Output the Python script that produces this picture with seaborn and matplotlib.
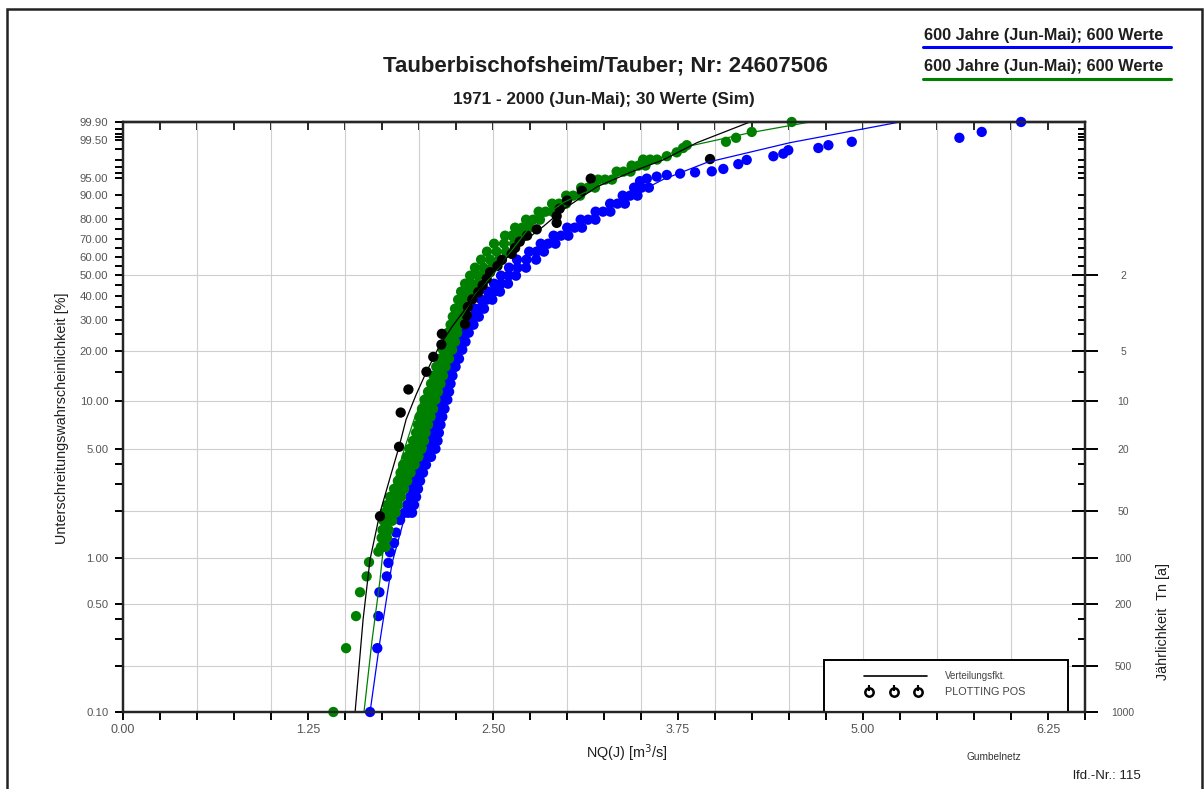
import numpy as np
import seaborn as sns
import matplotlib.pyplot as plt
from matplotlib.lines import Line2D
from matplotlib.patches import Rectangle

# NQ(J) [m3/s] against Unterschreitungswahrscheinlichkeit [%]

# green series (600 Werte): isolated low values, dense band (left / middle / right), isolated high values
green_tail_q = [1.421, 1.507, 1.574, 1.601, 1.646, 1.662, 1.725]
green_tail_p = [0.10, 0.26, 0.42, 0.60, 0.76, 0.94, 1.10]
green_band_p = [1.18, 1.35, 1.52, 1.74, 1.96, 2.20, 2.48, 2.79, 3.14, 3.54,
                3.98, 4.47, 5.03, 5.65, 6.35, 7.13, 8.00, 8.97, 10.20, 11.43,
                12.79, 14.29, 16.17, 18.04, 20.36, 22.64, 25.45, 28.19, 31.17, 34.37,
                38.24, 41.93, 45.80, 49.88, 54.10, 58.44, 62.84, 67.21, 71.56, 75.77,
                79.77, 83.50, 86.89, 89.88, 92.44, 94.57, 96.25, 97.25, 98.04]
green_left_q = [1.743, 1.747, 1.753, 1.760, 1.767, 1.784, 1.804, 1.831, 1.857, 1.875,
                1.892, 1.916, 1.936, 1.959, 1.980, 1.993, 2.003, 2.020, 2.037, 2.061,
                2.081, 2.098, 2.116, 2.139, 2.161, 2.179, 2.195, 2.213, 2.228, 2.243,
                2.264, 2.284, 2.311, 2.345, 2.378, 2.419, 2.459, 2.507, 2.581, 2.649,
                2.723, 2.808, 2.899, 2.994, 3.095, 3.210, 3.335, 3.436, 3.514]
green_mid_q = [1.758, 1.765, 1.774, 1.789, 1.804, 1.821, 1.841, 1.865, 1.889, 1.909,
               1.931, 1.956, 1.978, 1.997, 2.012, 2.027, 2.041, 2.057, 2.074, 2.095,
               2.113, 2.130, 2.148, 2.171, 2.193, 2.211, 2.226, 2.243, 2.258, 2.274,
               2.297, 2.324, 2.355, 2.399, 2.436, 2.480, 2.524, 2.574, 2.628, 2.696,
               2.770, 2.855, 2.946, 3.041, 3.142, 3.257, 3.382, 3.483, 3.561]
green_right_q = [1.774, 1.784, 1.794, 1.818, 1.841, 1.858, 1.878, 1.899, 1.920, 1.943,
                 1.970, 1.997, 2.020, 2.034, 2.044, 2.061, 2.078, 2.095, 2.111, 2.128,
                 2.145, 2.162, 2.179, 2.203, 2.224, 2.243, 2.258, 2.274, 2.287, 2.304,
                 2.331, 2.365, 2.399, 2.453, 2.493, 2.541, 2.588, 2.642, 2.675, 2.743,
                 2.817, 2.902, 2.993, 3.088, 3.189, 3.304, 3.429, 3.530, 3.608]
green_top_q = [3.674, 3.741, 3.784, 3.809, 4.074, 4.142, 4.248, 4.518]
green_top_p = [98.4, 98.75, 99.07, 99.24, 99.41, 99.57, 99.74, 99.90]

# blue series (600 Werte)
blue_tail_q = [1.669, 1.718, 1.725, 1.732, 1.782, 1.793, 1.804, 1.831, 1.845, 1.872]
blue_tail_p = [0.10, 0.26, 0.42, 0.60, 0.76, 0.93, 1.09, 1.25, 1.46, 1.76]
blue_band_p = [1.96, 2.20, 2.48, 2.79, 3.14, 3.54, 3.98, 4.47, 5.03, 5.65,
               6.35, 7.13, 8.00, 8.97, 10.20, 11.43, 12.79, 14.29, 16.17, 18.04,
               20.36, 22.64, 25.45, 28.19, 31.17, 34.37, 38.24, 41.93, 45.80, 49.88,
               54.10, 58.44, 62.84, 67.21, 71.56, 75.77, 79.77, 83.50, 86.89, 89.88, 92.44]
blue_left_q = [1.902, 1.919, 1.939, 1.953, 1.966, 1.980, 1.993, 2.014, 2.037, 2.054,
               2.071, 2.088, 2.105, 2.115, 2.127, 2.149, 2.172, 2.189, 2.206, 2.223,
               2.240, 2.264, 2.285, 2.318, 2.353, 2.378, 2.420, 2.466, 2.507, 2.554,
               2.608, 2.662, 2.744, 2.822, 2.909, 3.001, 3.092, 3.193, 3.291, 3.376, 3.453]
blue_mid_q = [1.927, 1.943, 1.959, 1.973, 1.986, 2.003, 2.020, 2.047, 2.074, 2.090,
              2.102, 2.117, 2.131, 2.144, 2.159, 2.176, 2.193, 2.208, 2.226, 2.247,
              2.266, 2.289, 2.311, 2.343, 2.378, 2.409, 2.458, 2.507, 2.554, 2.605,
              2.666, 2.726, 2.794, 2.872, 2.959, 3.051, 3.142, 3.243, 3.341, 3.426, 3.503]
blue_right_q = [1.953, 1.966, 1.980, 1.993, 2.007, 2.027, 2.047, 2.081, 2.111, 2.125,
                2.134, 2.145, 2.157, 2.172, 2.191, 2.203, 2.213, 2.226, 2.247, 2.270,
                2.292, 2.314, 2.336, 2.368, 2.404, 2.439, 2.495, 2.547, 2.601, 2.655,
                2.723, 2.791, 2.844, 2.922, 3.009, 3.101, 3.192, 3.293, 3.391, 3.476, 3.553]
blue_top_q = [3.493, 3.539, 3.606, 3.674, 3.764, 3.865, 3.978, 4.056, 4.157, 4.214,
              4.394, 4.461, 4.495, 4.698, 4.766, 4.924, 5.651, 5.802, 6.068]
blue_top_p = [94.2, 94.8, 95.25, 95.6, 95.87, 96.1, 96.3, 96.72, 97.46, 98.0,
              98.4, 98.64, 98.92, 99.07, 99.24, 99.41, 99.57, 99.74, 99.90]

# black series: 1971-2000, 30 Werte
black_q = [1.736, 1.865, 1.876, 1.928, 2.05, 2.096, 2.151, 2.154, 2.311, 2.322,
           2.33, 2.36, 2.40, 2.43, 2.457, 2.48, 2.53, 2.56, 2.626, 2.649,
           2.68, 2.73, 2.795, 2.93, 2.93, 2.95, 3.00, 3.10, 3.16, 3.966]
black_p = [1.86, 5.18, 8.50, 11.8, 15.1, 18.5, 21.8, 25.1, 28.4, 31.7,
           35.1, 38.4, 41.7, 45.0, 48.3, 51.7, 55.0, 58.3, 61.6, 64.9,
           68.3, 71.6, 74.9, 78.2, 81.5, 84.8, 88.1, 91.5, 94.8, 98.1]

# Verteilungsfunktionen
fit_black_q = [1.568, 1.622, 1.669, 1.736, 1.804, 1.865, 1.912, 1.980, 2.047, 2.135, 2.223,
               2.324, 2.459, 2.662, 2.838, 2.973, 3.203, 3.426, 3.649, 3.878, 4.236]
fit_black_p = [0.10, 0.40, 0.98, 1.96, 3.29, 5.18, 7.67, 10.95, 14.9, 21.2, 27.5,
               35.2, 47.8, 65.6, 76.3, 84.4, 92.7, 96.1, 98.0, 99.37, 99.90]
fit_green_q = [1.628, 1.682, 1.736, 1.784, 1.838, 1.899, 1.966, 2.041, 2.122, 2.209, 2.291,
               2.378, 2.527, 2.750, 2.973, 3.203, 3.426, 3.649, 3.811, 4.236, 4.642]
fit_green_p = [0.10, 0.29, 0.72, 1.96, 3.19, 4.96, 7.67, 11.27, 16.25, 23.2, 31.5,
               40.5, 53.0, 76.3, 87.3, 92.7, 96.6, 98.36, 99.16, 99.72, 99.90]
fit_blue_q = [1.669, 1.736, 1.818, 1.959, 2.074, 2.189, 2.297, 2.432, 2.527, 2.750, 2.973,
              3.203, 3.426, 3.649, 3.946, 4.507, 5.25]
fit_blue_p = [0.10, 0.29, 0.93, 2.88, 5.49, 10.2, 20.4, 38.2, 46.3, 62.3, 73.2,
              83.1, 89.5, 94.6, 97.7, 99.37, 99.90]

prob_major = [0.1, 0.5, 1, 5, 10, 20, 30, 40, 50, 60, 70, 80, 90, 95, 99.5, 99.9]
prob_minor = [0.2, 0.3, 0.4, 2, 3, 4, 15, 25, 35, 45, 55, 65, 75, 85, 96, 97, 98, 99, 99.6, 99.7, 99.8]
tn_years = [2, 5, 10, 20, 50, 100, 200, 500, 1000]
x_major = [0.0, 1.25, 2.5, 3.75, 5.0, 6.25]


def gumbel(p):
    p = np.clip(np.asarray(p, dtype=float), 1e-6, 100 - 1e-6)
    return np.log(-np.log(1 - p / 100))


def gumbel_inv(t):
    with np.errstate(over='ignore'):
        return 100 * (1 - np.exp(-np.exp(np.asarray(t, dtype=float))))


green_q = green_tail_q + green_left_q + green_mid_q + green_right_q + green_top_q
green_p = green_tail_p + green_band_p * 3 + green_top_p
blue_q = blue_tail_q + blue_left_q + blue_mid_q + blue_right_q + blue_top_q
blue_p = blue_tail_p + blue_band_p * 3 + blue_top_p

sns.set_theme(style='white')
plt.rcParams['font.family'] = ['Liberation Sans', 'DejaVu Sans']
grey = '#555555'
dark = '#1e1e1e'

fig = plt.figure(figsize=(12.04, 7.89), dpi=100)
ax = fig.add_axes([0.1022, 0.0976, 0.799, 0.7478])
ax.set_yscale('function', functions=(gumbel, gumbel_inv))

sns.scatterplot(x=blue_q, y=blue_p, color='#0000ff', s=55, edgecolor='none', ax=ax, zorder=3, clip_on=False)
sns.scatterplot(x=green_q, y=green_p, color='#008000', s=55, edgecolor='none', ax=ax, zorder=4, clip_on=False)
sns.scatterplot(x=black_q, y=black_p, color='black', s=55, edgecolor='none', ax=ax, zorder=5, clip_on=False)
sns.lineplot(x=fit_blue_q, y=fit_blue_p, color='#0000ff', lw=0.9, sort=False, estimator=None, ax=ax, zorder=6)
sns.lineplot(x=fit_green_q, y=fit_green_p, color='#008000', lw=0.9, sort=False, estimator=None, ax=ax, zorder=6)
sns.lineplot(x=fit_black_q, y=fit_black_p, color='black', lw=0.9, sort=False, estimator=None, ax=ax, zorder=7)

ax.set_xlim(0, 6.5)
ax.set_ylim(0.1, 99.9)

# grid
for xv in np.arange(0.5, 6.5, 0.5):
    ax.axvline(xv, color='#cfcfcf', lw=0.8, zorder=1)
for T in tn_years[:-1]:
    ax.axhline(100 / T, color='#cfcfcf', lw=0.8, zorder=1)

for s in ax.spines.values():
    s.set_linewidth(1.6)
    s.set_color('black')

ax.set_xticks(x_major)
ax.set_xticklabels([f'{v:.2f}' for v in x_major])
ax.set_xticks(np.arange(0, 6.51, 0.25), minor=True)
ax.tick_params(axis='x', which='both', direction='out', length=6, width=1.4, color='black',
               bottom=True, top=False, labelsize=9, labelcolor=grey, pad=3)

ax.set_yticks(prob_major)
ax.set_yticklabels([f'{v:.2f}' for v in prob_major])
ax.set_yticks(prob_minor, minor=True)
ax.yaxis.set_minor_formatter(plt.NullFormatter())
ax.tick_params(axis='y', which='both', direction='out', length=5.5, width=1.4, color='black',
               left=True, right=False, labelsize=8.2, labelcolor=grey, pad=5)

secx = ax.secondary_xaxis('top')
secx.set_xticks(np.arange(0, 6.51, 0.25))
secx.tick_params(direction='in', length=6, width=1.4, labeltop=False)
secx.spines['top'].set_linewidth(1.6)

ax2 = ax.twinx()
ax2.set_yscale('function', functions=(gumbel, gumbel_inv))
ax2.set_ylim(0.1, 99.9)
ax2.set_yticks(prob_major + prob_minor, minor=True)
ax2.yaxis.set_minor_formatter(plt.NullFormatter())
ax2.set_yticks([100 / T for T in tn_years])
ax2.set_yticklabels([str(T) for T in tn_years])
ax2.tick_params(axis='y', which='minor', direction='in', length=5, width=1.4, color='black')
ax2.tick_params(axis='y', which='major', direction='inout', length=19, width=1.4, color='black',
                labelsize=7.5, labelcolor=grey, pad=18)
for lab in ax2.get_yticklabels():
    lab.set_horizontalalignment('center')
for s in ax2.spines.values():
    s.set_linewidth(1.6)
ax2.grid(False)

ax.set_xlabel('')
ax.set_ylabel('')

# legend box inside plot
ax.add_patch(Rectangle((0.7287, 0.0), 0.2536, 0.0881, transform=ax.transAxes, facecolor='white',
                       edgecolor='black', lw=1.4, zorder=8))
ax.add_line(Line2D([0.770, 0.836], [0.061, 0.061], transform=ax.transAxes, color='black', lw=1.2, zorder=9))
for xs in [0.7755, 0.8015, 0.8264]:
    ax.plot([xs], [0.034], transform=ax.transAxes, marker='o', ms=6, mfc='white', mec='black', mew=1.8,
            zorder=9, clip_on=False)
    ax.plot([xs], [0.040], transform=ax.transAxes, marker='|', ms=4, mec='black', mew=1.5, zorder=10)
ax.text(0.8545, 0.061, 'Verteilungsfkt.', transform=ax.transAxes, fontsize=7, color='#444444',
        va='center', zorder=9)
ax.text(0.8545, 0.034, 'PLOTTING POS', transform=ax.transAxes, fontsize=7.8, color='#444444',
        va='center', zorder=9)

# texts
fig.text(0.5025, 0.9163, 'Tauberbischofsheim/Tauber; Nr: 24607506', ha='center', va='center',
         fontsize=16, fontweight='bold', color=dark)
fig.text(0.5017, 0.8733, '1971 - 2000 (Jun-Mai); 30 Werte (Sim)', ha='center', va='center',
         fontsize=12.3, fontweight='bold', color=dark)
fig.text(0.7675, 0.9544, '600 Jahre (Jun-Mai); 600 Werte', ha='left', va='center',
         fontsize=11.8, fontweight='bold', color=dark)
fig.text(0.7675, 0.9151, '600 Jahre (Jun-Mai); 600 Werte', ha='left', va='center',
         fontsize=11.8, fontweight='bold', color=dark)
fig.add_artist(Line2D([0.7666, 0.9726], [0.9404, 0.9404], color='#0000ff', lw=2.2))
fig.add_artist(Line2D([0.7666, 0.9726], [0.8999, 0.8999], color='#008000', lw=2.2))

fig.text(0.0515, 0.470, 'Unterschreitungswahrscheinlichkeit [%]', rotation=90, ha='center', va='center',
         fontsize=10.4, color=dark)
fig.text(0.966, 0.2117, 'Jährlichkeit  Tn [a]', rotation=90, ha='center', va='center',
         fontsize=10.4, color=dark)
fig.text(0.5208, 0.0456, 'NQ(J) [m$^3$/s]', ha='center', va='center', fontsize=10.4, color=dark)
fig.text(0.8256, 0.0406, 'Gumbelnetz', ha='center', va='center', fontsize=7.3, color='#333333')
fig.text(0.919, 0.0165, 'lfd.-Nr.: 115', ha='center', va='center', fontsize=9.5, color=dark)

fig.add_artist(Rectangle((0.0058, -0.02), 0.9927, 1.0086, transform=fig.transFigure, fill=False,
                         edgecolor='#222222', lw=1.8))

fig.savefig('out.png', dpi=100)
